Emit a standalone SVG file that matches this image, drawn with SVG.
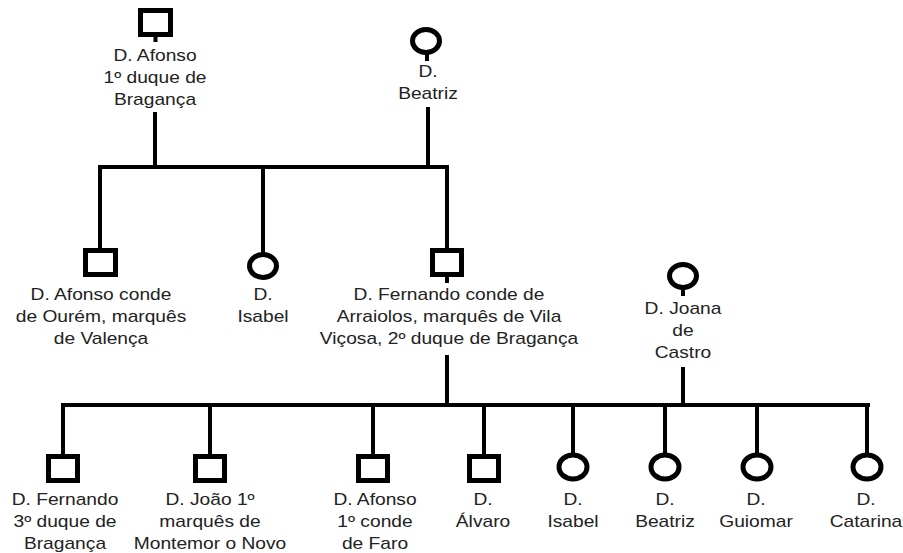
<svg xmlns="http://www.w3.org/2000/svg" width="903" height="553" viewBox="0 0 903 553">
<style>
.bg{fill:#ffffff}
.m{fill:none;stroke:#000;stroke-width:5}
.f{fill:none;stroke:#000;stroke-width:5}
.ln{fill:none;stroke:#000;stroke-width:4;stroke-linecap:butt}
.t{font-family:"Liberation Sans",Arial,sans-serif;font-size:16px;fill:#222;text-anchor:middle}
</style>
<rect class="bg" x="0" y="0" width="903" height="553"/>
<g id="connectors">
<path class="ln" d="M155.5,35 V42"/>
<path class="ln" d="M427,53 V61"/>
<path class="ln" d="M155,112 V167"/>
<path class="ln" d="M428,107 V167"/>
<path class="ln" d="M98,167 H449"/>
<path class="ln" d="M100,167 V249"/>
<path class="ln" d="M263,167 V256"/>
<path class="ln" d="M447,167 V249"/>
<path class="ln" d="M447,276 V283"/>
<path class="ln" d="M683,288 V296"/>
<path class="ln" d="M447,355 V405"/>
<path class="ln" d="M683,367 V405"/>
<path class="ln" d="M61,405 H870"/>
<path class="ln" d="M63,405 V455"/>
<path class="ln" d="M210,405 V455"/>
<path class="ln" d="M373,405 V455"/>
<path class="ln" d="M484,405 V455"/>
<path class="ln" d="M573,405 V455"/>
<path class="ln" d="M665,405 V455"/>
<path class="ln" d="M757,405 V455"/>
<path class="ln" d="M867,405 V455"/>
</g>
<g id="afonso1">
<rect class="m" x="140.5" y="10.5" width="30" height="24"/>
<text class="t" transform="matrix(1.2,0,0,1,155,61)">D. Afonso</text>
<text class="t" transform="matrix(1.2,0,0,1,155,83)">1º duque de</text>
<text class="t" transform="matrix(1.2,0,0,1,155,105)">Bragança</text>
</g>
<g id="beatriz1">
<ellipse class="f" cx="426" cy="41" rx="13.5" ry="11.5"/>
<text class="t" transform="matrix(1.2,0,0,1,428,77)">D.</text>
<text class="t" transform="matrix(1.2,0,0,1,428,99)">Beatriz</text>
</g>
<g id="afonso2">
<rect class="m" x="85.5" y="250.5" width="30" height="24"/>
<text class="t" transform="matrix(1.2,0,0,1,101,300)">D. Afonso conde</text>
<text class="t" transform="matrix(1.2,0,0,1,101,322)">de Ourém, marquês</text>
<text class="t" transform="matrix(1.2,0,0,1,101,344)">de Valença</text>
</g>
<g id="isabel2">
<ellipse class="f" cx="263" cy="266" rx="13.5" ry="11.5"/>
<text class="t" transform="matrix(1.2,0,0,1,263,300)">D.</text>
<text class="t" transform="matrix(1.2,0,0,1,263,322)">Isabel</text>
</g>
<g id="fernando2">
<rect class="m" x="432.5" y="250.5" width="29" height="24"/>
<text class="t" transform="matrix(1.2,0,0,1,449,300)">D. Fernando conde de</text>
<text class="t" transform="matrix(1.2,0,0,1,449,322)">Arraiolos, marquês de Vila</text>
<text class="t" transform="matrix(1.2,0,0,1,449,344)">Viçosa, 2º duque de Bragança</text>
</g>
<g id="joana">
<ellipse class="f" cx="683" cy="276" rx="13.5" ry="11.5"/>
<text class="t" transform="matrix(1.2,0,0,1,683,314)">D. Joana</text>
<text class="t" transform="matrix(1.2,0,0,1,683,336)">de</text>
<text class="t" transform="matrix(1.2,0,0,1,683,358)">Castro</text>
</g>
<g id="fernando3">
<rect class="m" x="48.5" y="456.5" width="29" height="24"/>
<text class="t" transform="matrix(1.2,0,0,1,65,505)">D. Fernando</text>
<text class="t" transform="matrix(1.2,0,0,1,65,527)">3º duque de</text>
<text class="t" transform="matrix(1.2,0,0,1,65,549)">Bragança</text>
</g>
<g id="joao3">
<rect class="m" x="195.5" y="456.5" width="29" height="24"/>
<text class="t" transform="matrix(1.2,0,0,1,210,505)">D. João 1º</text>
<text class="t" transform="matrix(1.2,0,0,1,210,527)">marquês de</text>
<text class="t" transform="matrix(1.2,0,0,1,210,549)">Montemor o Novo</text>
</g>
<g id="afonso3">
<rect class="m" x="358.5" y="456.5" width="29" height="24"/>
<text class="t" transform="matrix(1.2,0,0,1,375,505)">D. Afonso</text>
<text class="t" transform="matrix(1.2,0,0,1,375,527)">1º conde</text>
<text class="t" transform="matrix(1.2,0,0,1,375,549)">de Faro</text>
</g>
<g id="alvaro3">
<rect class="m" x="469.5" y="456.5" width="29" height="24"/>
<text class="t" transform="matrix(1.2,0,0,1,483,505)">D.</text>
<text class="t" transform="matrix(1.2,0,0,1,483,527)">Álvaro</text>
</g>
<g id="isabel3">
<ellipse class="f" cx="573" cy="467" rx="14" ry="12"/>
<text class="t" transform="matrix(1.2,0,0,1,573,505)">D.</text>
<text class="t" transform="matrix(1.2,0,0,1,573,527)">Isabel</text>
</g>
<g id="beatriz3">
<ellipse class="f" cx="665" cy="467" rx="14" ry="12"/>
<text class="t" transform="matrix(1.2,0,0,1,665,505)">D.</text>
<text class="t" transform="matrix(1.2,0,0,1,665,527)">Beatriz</text>
</g>
<g id="guiomar3">
<ellipse class="f" cx="757" cy="467" rx="14" ry="12"/>
<text class="t" transform="matrix(1.2,0,0,1,756,505)">D.</text>
<text class="t" transform="matrix(1.2,0,0,1,756,527)">Guiomar</text>
</g>
<g id="catarina3">
<ellipse class="f" cx="867" cy="467" rx="14" ry="12"/>
<text class="t" transform="matrix(1.2,0,0,1,866,505)">D.</text>
<text class="t" transform="matrix(1.2,0,0,1,866,527)">Catarina</text>
</g>
</svg>
